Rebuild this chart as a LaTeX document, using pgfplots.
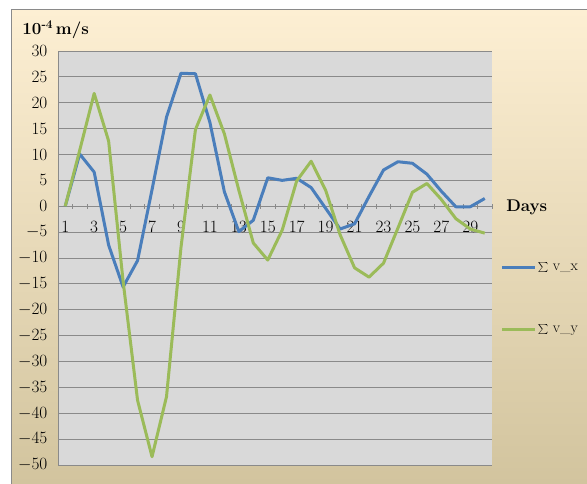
\documentclass[border=0pt]{standalone}
\usepackage{pgfplots}
\pgfplotsset{compat=1.18}
\definecolor{bgtop}{HTML}{FDEFD3}
\definecolor{bgmid}{HTML}{F2EAD5}
\definecolor{bgbot}{HTML}{D2C49E}
\definecolor{plotbg}{HTML}{D9D9D9}
\definecolor{gridc}{HTML}{8A8A8A}
\definecolor{vxblue}{HTML}{4A7EBB}
\definecolor{vygreen}{HTML}{9BBB59}
\pgfplotstableread{
day vx vy
1 0 0
2 10.1 10.8
3 6.6 21.8
4 -7.5 12.6
5 -15.6 -14.5
6 -10.5 -37.5
7 3.2 -48.4
8 17.2 -36.8
9 25.7 -8.0
10 25.6 14.8
11 16.2 21.5
12 2.8 14.0
13 -4.9 3.1
14 -2.7 -7.1
15 5.5 -10.4
16 5.0 -4.6
17 5.4 4.9
18 3.6 8.7
19 -0.4 3.1
20 -4.4 -5.5
21 -3.4 -11.9
22 1.9 -13.7
23 7.0 -11.0
24 8.6 -4.2
25 8.3 2.7
26 6.2 4.4
27 2.9 1.3
28 -0.1 -2.4
29 -0.1 -4.4
30 1.5 -5.2
}\datatable
\begin{document}
\begin{tikzpicture}
\path[use as bounding box] (0,0) rectangle (587bp,484bp);
\fill[white] (0,0) rectangle (587bp,484bp);
\shade[top color=bgtop, middle color=bgmid, bottom color=bgbot] (11bp,0) rectangle (587bp,474bp);
\draw[gridc, line width=1bp] (11bp,0) -- (11bp,474bp) -- (587bp,474bp);
\begin{axis}[
  scale only axis,
  width=434bp, height=414bp,
  at={(58bp,19bp)}, anchor=south west,
  xmin=0.5, xmax=30.5, ymin=-50, ymax=30,
  axis background/.style={fill=plotbg},
  axis x line=middle, axis y line=left,
  axis line style={gridc, line width=0.8bp, -},
  xtick={1,3,...,29},
  minor xtick={1.5,2.5,...,30.5},
  major x tick style={draw=none},
  minor x tick style={gridc, line width=0.8bp},
  minor tick length=5bp,
  x tick label style={yshift=-10bp},
  ytick={-50,-45,...,30},
  y tick style={draw=none},
  ymajorgrids,
  grid style={gridc, line width=0.8bp},
  tick label style={font=\fontsize{17}{19}\selectfont},
  yticklabel style={xshift=-5bp},
  clip=false,
  xlabel={\textbf{Days}},
  xlabel style={at={(axis description cs:1.080,0.623)}, anchor=center, font=\fontsize{17}{19}\selectfont},
  legend style={at={(axis description cs:1.02,0.403)}, anchor=west, draw=none, fill=none,
    font=\fontsize{15}{17}\selectfont, row sep=50bp, inner sep=0pt,
    nodes={inner sep=1bp}},
  legend image code/.code={\draw[#1, line width=3bp] (0bp,0bp) -- (33bp,0bp);},
  legend cell align=left,
]
\draw[gridc, line width=0.8bp] (axis cs:0.5,30) -- (axis cs:30.5,30);
\addplot[vxblue, line width=3bp, line join=round] table[x=day, y=vx] {\datatable};
\addlegendentry{$\sum$ v\_x}
\addplot[vygreen, line width=3bp, line join=round] table[x=day, y=vy] {\datatable};
\addlegendentry{$\sum$ v\_y}
\node[anchor=west, font=\bfseries\fontsize{17}{19}\selectfont] at (axis description cs:-0.09,1.052) {10\textsuperscript{-4}\,m/s};
\end{axis}
\end{tikzpicture}
\end{document}
